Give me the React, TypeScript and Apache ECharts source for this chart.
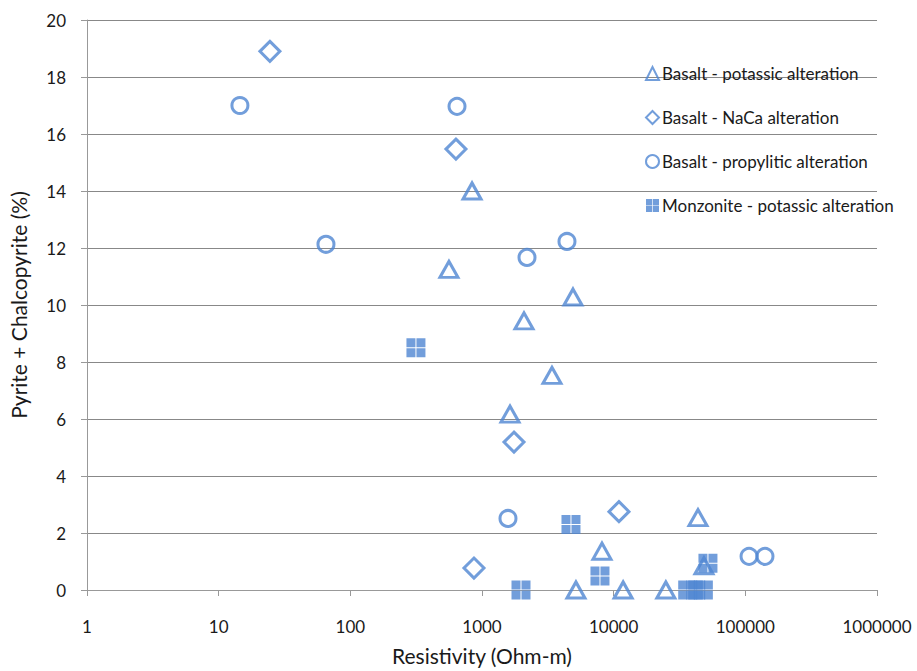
import React, { useEffect, useRef } from "react";
import * as echarts from "echarts";

const xTicks = [1, 10, 100, 1000, 10000, 100000, 1000000];

const potassicBasalt: [number, number][] = [
  [840, 14.0], [561, 11.25], [4910, 10.28], [2084, 9.44], [3400, 7.53], [1632, 6.17],
  [43700, 2.54], [8150, 1.36], [5170, 0], [11800, 0], [24900, 0], [48500, 0.85],
];
const nacaBasalt: [number, number][] = [
  [24.5, 18.9], [634, 15.47], [1750, 5.19], [10970, 2.75], [869, 0.77],
];
const propyliticBasalt: [number, number][] = [
  [14.5, 17.0], [646, 16.97], [65.3, 12.13], [4420, 12.23], [2197, 11.67],
  [1575, 2.51], [106700, 1.18], [141000, 1.18],
];
const monzonite: [number, number][] = [
  [315, 8.5], [4740, 2.3], [7870, 0.49], [1978, 0], [36500, 0], [42000, 0], [48000, 0], [52000, 0.94],
];

const BLUE = "#4f86d2";
const FONT = "Lato, 'Liberation Sans', sans-serif";
const squareSym = "path://M0,0h9v9h-9z M10,0h9v9h-9z M0,10h9v9h-9z M10,10h9v9h-9z";

export default function App() {
  const ref = useRef<HTMLDivElement>(null);
  useEffect(() => {
    const chart = echarts.init(ref.current!, null, { renderer: "svg" });
    const hollow = { color: "rgba(255,255,255,0)", borderColor: BLUE, borderWidth: 3 };
    chart.setOption({
      animation: false,
      backgroundColor: "#ffffff",
      textStyle: { fontFamily: FONT },
      grid: { left: 87, width: 790, top: 20, height: 574 },
      legend: {
        orient: "vertical",
        left: 640,
        top: 60,
        itemGap: 27,
        itemWidth: 13,
        itemHeight: 13,
        textStyle: { fontSize: 17, color: "#1a1a1a", fontFamily: FONT, padding: [0, 0, 0, -2] },
        data: [
          "Basalt - potassic alteration",
          "Basalt - NaCa alteration",
          "Basalt - propylitic alteration",
          "Monzonite - potassic alteration",
        ],
      },
      xAxis: {
        type: "log",
        logBase: 10,
        min: 1,
        max: 1000000,
        name: "Resistivity (Ohm-m)",
        nameLocation: "middle",
        nameGap: 55,
        nameTextStyle: { fontSize: 21, color: "#1a1a1a", fontFamily: FONT },
        axisLine: { show: true, lineStyle: { color: "#999999", width: 1 } },
        axisTick: { show: true, length: 6, lineStyle: { color: "#999999" } },
        minorTick: { show: false },
        splitLine: { show: false },
        axisLabel: {
          fontSize: 17,
          color: "#1a1a1a",
          margin: 28,
          formatter: (v: number) => String(Math.round(v)),
        },
      },
      yAxis: {
        type: "value",
        min: 0,
        max: 20,
        interval: 2,
        name: "Pyrite + Chalcopyrite (%)",
        nameLocation: "middle",
        nameGap: 58,
        nameTextStyle: { fontSize: 21, color: "#1a1a1a", fontFamily: FONT },
        axisLine: { show: true, lineStyle: { color: "#999999", width: 1 } },
        axisTick: { show: true, inside: false, length: 6, lineStyle: { color: "#999999" } },
        splitLine: { show: true, lineStyle: { color: "#888888", width: 1 } },
        axisLabel: { fontSize: 17, color: "#1a1a1a", margin: 21 },
      },
      series: [
        {
          name: "Basalt - potassic alteration",
          type: "scatter",
          symbol: "triangle",
          symbolSize: [18, 16],
          itemStyle: hollow,
          data: potassicBasalt,
          z: 2,
        },
        {
          name: "Basalt - NaCa alteration",
          type: "scatter",
          symbol: "diamond",
          symbolSize: [20, 20],
          itemStyle: hollow,
          data: nacaBasalt,
          z: 2,
        },
        {
          name: "Basalt - propylitic alteration",
          type: "scatter",
          symbol: "circle",
          symbolSize: 16,
          itemStyle: hollow,
          data: propyliticBasalt,
          z: 2,
        },
        {
          name: "Monzonite - potassic alteration",
          type: "scatter",
          symbol: squareSym,
          symbolSize: 19,
          itemStyle: { color: BLUE },
          data: monzonite,
          z: 3,
        },
      ],
    });
    return () => chart.dispose();
  }, []);
  return (
    <div
      ref={ref}
      style={{ position: "fixed", left: 0, top: 0, width: 917, height: 671, background: "#fff" }}
    />
  );
}
